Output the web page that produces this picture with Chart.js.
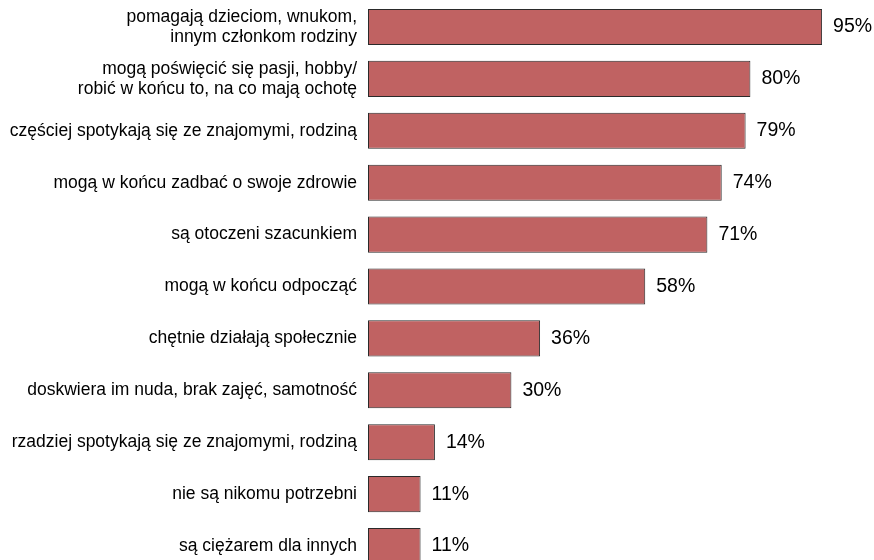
<!DOCTYPE html>
<html>
<head>
<meta charset="utf-8">
<script src="https://cdn.jsdelivr.net/npm/chart.js@4"></script>
<style>
  html, body { margin: 0; padding: 0; background: #fff; overflow: hidden; }
  canvas { display: block; }
</style>
</head>
<body>
<canvas id="chart" width="874" height="572"></canvas>
<script>
// Categories (top to bottom)
const categories = [
  ['pomagają dzieciom, wnukom,', 'innym członkom rodziny'],
  ['mogą poświęcić się pasji, hobby/', 'robić w końcu to, na co mają ochotę'],
  'częściej spotykają się ze znajomymi, rodziną',
  'mogą w końcu zadbać o swoje zdrowie',
  'są otoczeni szacunkiem',
  'mogą w końcu odpocząć',
  'chętnie działają społecznie',
  'doskwiera im nuda, brak zajęć, samotność',
  'rzadziej spotykają się ze znajomymi, rodziną',
  'nie są nikomu potrzebni',
  'są ciężarem dla innych'
];
const values = [95, 80, 79, 74, 71, 58, 36, 30, 14, 11, 11];

const FONT = 'Liberation Sans, Arial, sans-serif';

// Percent labels at the end of each bar
const valueLabels = {
  id: 'valueLabels',
  afterDatasetsDraw(chart) {
    const ctx = chart.ctx;
    const meta = chart.getDatasetMeta(0);
    ctx.save();
    ctx.font = '19.5px ' + FONT;
    ctx.fillStyle = '#000';
    ctx.textAlign = 'left';
    ctx.textBaseline = 'middle';
    meta.data.forEach((bar, i) => {
      ctx.fillText(values[i] + '%', bar.x + 11, bar.y);
    });
    ctx.restore();
  }
};

new Chart(document.getElementById('chart'), {
  type: 'bar',
  data: {
    labels: categories,
    datasets: [{
      data: values,
      backgroundColor: '#c06262',
      borderColor: '#2a2a2a',
      borderWidth: 1,
      borderSkipped: false,
      barPercentage: 0.695,
      categoryPercentage: 1.0
    }]
  },
  options: {
    indexAxis: 'y',
    responsive: false,
    animation: false,
    layout: { padding: { left: 0, right: 28, top: 1, bottom: 0 } },
    plugins: {
      legend: { display: false },
      tooltip: { enabled: false }
    },
    scales: {
      x: {
        display: false,
        min: 0,
        max: 100
      },
      y: {
        afterFit(scale) {
          // fixed label column, no extra room for overflowing labels
          scale.width = 368;
          scale.paddingTop = 0;
          scale.paddingBottom = 0;
        },
        border: { display: false },
        grid: { display: false, drawTicks: false },
        ticks: {
          color: '#000',
          padding: 11,
          font: { family: FONT, size: 17.5, lineHeight: 1.15 }
        }
      }
    }
  },
  plugins: [valueLabels]
});
</script>
</body>
</html>
